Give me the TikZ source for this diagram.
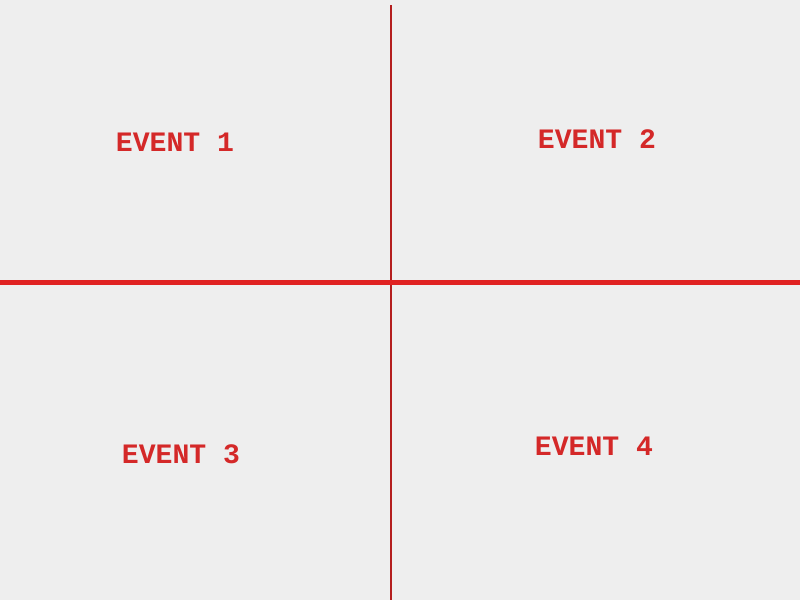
\documentclass[tikz,border=0pt]{standalone}
\usepackage{fontspec}
\newfontfamily\eventfont{Liberation Mono}
\usepackage{tikz}

\definecolor{eventred}{HTML}{D42828}
\definecolor{axisred}{HTML}{E02222}
\definecolor{splitred}{HTML}{B41E1E}
\definecolor{paper}{HTML}{EEEEEE}

\begin{document}
\begin{tikzpicture}[x=0.025cm, y=-0.025cm, every node/.style={text=eventred, inner sep=0pt, font=\eventfont\bfseries\fontsize{20}{24}\selectfont}]
	
	\tikzset{axis/.style = {draw=axisred, line width=3.2pt}}
	\tikzset{split/.style = {draw=splitred, line width=1.3pt}}
	
	\fill[paper] (0,0) rectangle (800,600);
	\useasboundingbox (0,0) rectangle (800,600);
	
	\coordinate (top)   at (391,5);
	\coordinate (bot)   at (391,600);
	\coordinate (left)  at (0,282.5);
	\coordinate (right) at (800,282.5);
	
	\draw[split] (top) -- (bot);
	\draw[axis] (left) -- (right);
	
	\node (e1) at (175,142) {EVENT 1};
	\node (e2) at (597,139) {EVENT 2};
	\node (e3) at (181,454) {EVENT 3};
	\node (e4) at (594,446) {EVENT 4};
	
\end{tikzpicture}
\end{document}
